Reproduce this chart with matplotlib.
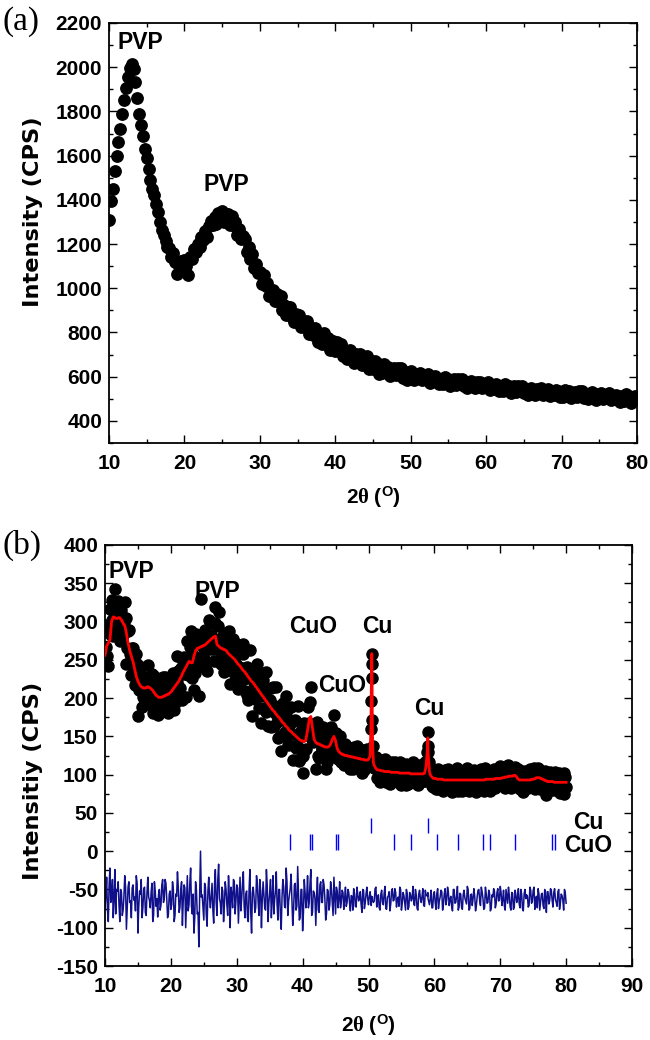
import numpy as np
import matplotlib
matplotlib.use("Agg")
import matplotlib.pyplot as plt
from matplotlib.ticker import MultipleLocator

plt.rcParams['font.family'] = ['Liberation Sans', 'DejaVu Sans']
plt.rcParams['font.weight'] = 'bold'
plt.rcParams['axes.unicode_minus'] = False
plt.rcParams['mathtext.fontset'] = 'custom'
plt.rcParams['mathtext.rm'] = 'Liberation Serif'
plt.rcParams['mathtext.bf'] = 'Liberation Sans:bold'
plt.rcParams['mathtext.it'] = 'Liberation Serif:italic'

# ---------------- (a) PVP film, step scan 10-80 deg, 0.25 deg step ----------------
tt_a = np.arange(10.0, 80.001, 0.25)
int_a = [
    1310, 1395, 1450, 1530, 1600, 1660, 1720, 1790,
    1850, 1905, 1955, 1995, 2015, 1990, 1935, 1860,
    1790, 1740, 1690, 1630, 1590, 1540, 1490, 1450,
    1420, 1380, 1345, 1300, 1265, 1240, 1215, 1185,
    1180, 1143, 1158, 1120, 1065, 1100, 1125, 1105,
    1128, 1100, 1062, 1142, 1133, 1178, 1164, 1201,
    1185, 1234, 1218, 1260, 1233, 1280, 1305, 1284,
    1322, 1292, 1341, 1310, 1350, 1302, 1335, 1338,
    1288, 1327, 1284, 1300, 1241, 1269, 1223, 1238,
    1225, 1164, 1186, 1134, 1156, 1091, 1109, 1069,
    1072, 1021, 1061, 1011, 1025, 963, 987, 993,
    942, 976, 937, 964, 903, 926, 879, 914,
    915, 870, 847, 885, 862, 880, 825, 832,
    824, 854, 793, 819, 790, 821, 807, 756,
    792, 749, 796, 755, 777, 721, 751, 762,
    717, 755, 720, 750, 693, 720, 678, 716,
    722, 681, 660, 702, 682, 704, 652, 664,
    659, 692, 633, 663, 637, 671, 660, 613,
    650, 618, 657, 627, 646, 604, 629, 641,
    607, 639, 613, 639, 595, 619, 587, 620,
    624, 596, 583, 613, 602, 618, 583, 591,
    590, 612, 573, 596, 579, 603, 596, 565,
    591, 567, 598, 575, 591, 559, 579, 588,
    563, 588, 569, 589, 557, 575, 551, 576,
    581, 558, 547, 574, 563, 578, 548, 556,
    554, 575, 541, 560, 545, 566, 560, 533,
    557, 534, 565, 542, 558, 527, 547, 556,
    531, 556, 537, 557, 525, 543, 519, 544,
    550, 527, 516, 543, 533, 548, 518, 526,
    525, 546, 512, 532, 517, 538, 533, 506,
    531, 508, 540, 517, 533, 503, 523, 532,
    508, 533, 514, 535, 503, 521, 498, 523,
    529, 506, 496, 523, 512, 528, 498, 506,
    505, 526, 493, 512, 497, 519, 513, 486,
    511, 488, 520, 497, 513, 483, 503, 512,
    498,
]

# ---------------- (b) Cu/CuO-PVP composite, Rietveld fit ----------------
# main scan points: 10.00, 10.25, ... 80.00
tt_b_grid = np.arange(10.0, 80.001, 0.25)
obs_b_grid = [
    244, 296, 242, 316, 302, 281, 343, 316,
    327, 275, 310, 283, 325, 245, 287, 257,
    230, 266, 240, 258, 177, 228, 240, 202,
    228, 192, 243, 212, 220, 180, 229, 194,
    178, 213, 193, 227, 203, 224, 180, 212,
    194, 233, 184, 223, 255, 205, 239, 197,
    254, 202, 274, 240, 287, 226, 210, 284,
    245, 203, 329, 273, 241, 285, 236, 302,
    264, 298, 248, 319, 248, 313, 261, 280,
    234, 285, 253, 288, 218, 259, 277, 230,
    265, 212, 270, 239, 271, 209, 241, 198,
    263, 177, 235, 199, 244, 206, 233, 167,
    224, 187, 234, 163, 198, 162, 214, 180,
    214, 148, 186, 131, 193, 156, 203, 139,
    163, 188, 119, 170, 135, 190, 118, 157,
    102, 168, 134, 188, 167, 214, 142, 154,
    107, 169, 122, 161, 133, 155, 108, 148,
    122, 162, 141, 178, 124, 144, 130, 116,
    138, 112, 140, 120, 132, 108, 126, 136,
    112, 137, 118, 130, 102, 131, 113, 134,
    112, 134, 258, 110, 123, 96, 111, 91,
    116, 97, 120, 90, 107, 88, 113, 100,
    116, 92, 105, 117, 87, 110, 96, 114,
    88, 110, 98, 117, 92, 106, 86, 112,
    96, 114, 92, 116, 156, 96, 109, 84,
    104, 81, 107, 91, 105, 79, 99, 85,
    108, 84, 96, 77, 105, 88, 109, 82,
    99, 79, 104, 90, 109, 78, 98, 84,
    106, 77, 96, 105, 84, 102, 79, 109,
    88, 105, 78, 99, 107, 83, 103, 92,
    111, 87, 107, 82, 100, 113, 87, 106,
    85, 110, 92, 107, 81, 99, 77, 105,
    98, 82, 108, 88, 105, 81, 99, 109,
    81, 101, 85, 105, 74, 100, 88, 102,
    80, 103, 85, 99, 76, 96, 88, 102,
    84,
]
calc_b_grid = [
    256, 268, 272, 276, 300, 306, 305, 304,
    305, 305, 302, 298, 295, 285, 272, 262,
    255, 248, 238, 228, 222, 218, 215, 214,
    213, 214, 215, 214, 212, 210, 207, 204,
    202, 201, 201, 202, 203, 204, 205, 206,
    208, 211, 214, 217, 220, 223, 227, 232,
    236, 240, 244, 248, 247, 246, 255, 262,
    265, 266, 267, 268, 269, 270, 272, 274,
    276, 278, 280, 281, 270, 268, 266, 265,
    264, 263, 261, 258, 256, 254, 252, 250,
    247, 244, 242, 239, 236, 234, 231, 228,
    225, 222, 220, 217, 214, 211, 208, 205,
    202, 199, 196, 193, 190, 187, 184, 182,
    179, 176, 174, 171, 168, 166, 163, 161,
    158, 156, 154, 152, 150, 148, 146, 145,
    144, 143, 146, 158, 172, 176, 160, 146,
    142, 141, 140, 139, 138, 137, 136, 136,
    137, 140, 146, 150, 144, 134, 130, 128,
    127, 126, 125, 125, 124, 124, 123, 123,
    122, 122, 121, 121, 120, 120, 119, 119,
    120, 125, 258, 115, 110, 107, 106, 106,
    105, 105, 104, 104, 104, 104, 103, 103,
    103, 103, 103, 102, 102, 102, 102, 102,
    102, 102, 101, 101, 101, 101, 101, 101,
    101, 101, 102, 112, 148, 104, 98, 96,
    95, 95, 94, 94, 94, 94, 93, 93,
    93, 93, 93, 93, 93, 93, 93, 93,
    93, 93, 93, 93, 93, 93, 93, 93,
    93, 93, 93, 93, 93, 93, 93, 94,
    94, 94, 94, 94, 94, 95, 95, 95,
    95, 96, 96, 97, 97, 98, 98, 98,
    99, 99, 97, 94, 93, 93, 93, 93,
    93, 93, 93, 94, 94, 95, 96, 96,
    96, 95, 94, 93, 92, 91, 91, 91,
    91, 90, 90, 90, 90, 90, 90, 90,
    90,
]
# interleaved scan points: 10.125, 10.375, ... 79.875
tt_b_mid = np.arange(10.125, 79.9, 0.25)
obs_b_mid = [
    267, 255, 292, 283, 328, 306, 284, 314,
    297, 315, 278, 299, 305, 266, 289, 255,
    265, 241, 217, 245, 210, 222, 189, 225,
    195, 222, 216, 201, 231, 186, 215, 203,
    206, 186, 219, 197, 228, 204, 185, 217,
    201, 224, 193, 221, 236, 213, 251, 231,
    252, 240, 230, 267, 236, 256, 233, 275,
    247, 274, 269, 256, 289, 249, 283, 275,
    282, 264, 298, 271, 294, 267, 245, 274,
    255, 274, 237, 260, 270, 241, 273, 245,
    259, 241, 224, 257, 225, 238, 204, 238,
    205, 229, 220, 203, 232, 187, 216, 203,
    205, 182, 212, 186, 213, 185, 163, 190,
    169, 187, 150, 172, 182, 152, 184, 156,
    171, 153, 137, 171, 139, 153, 120, 156,
    125, 152, 154, 153, 195, 146, 163, 144,
    146, 125, 157, 133, 162, 136, 116, 146,
    130, 155, 126, 150, 154, 120, 151, 124,
    134, 124, 115, 136, 118, 127, 108, 129,
    111, 126, 122, 113, 132, 106, 125, 119,
    125, 160, 137, 109, 123, 106, 94, 111,
    100, 111, 91, 106, 113, 96, 116, 101,
    111, 102, 92, 114, 96, 106, 87, 109,
    91, 106, 102, 94, 113, 88, 107, 101,
    104, 92, 117, 130, 117, 100, 85, 101,
    90, 101, 81, 96, 103, 86, 106, 91,
    101, 92, 83, 105, 87, 97, 78, 100,
    82, 98, 94, 86, 105, 80, 99, 93,
    96, 84, 104, 90, 108, 93, 81, 100,
    89, 101, 81, 96, 103, 88, 108, 93,
    103, 95, 86, 109, 91, 102, 83, 105,
    88, 103, 96, 86, 105, 80, 99, 93,
    96, 84, 104, 91, 109, 95, 84, 102,
    90, 101, 80, 94, 100, 84, 104, 89,
    98, 89, 80, 102, 84, 94, 75, 97,
]
calc_b_mid = [
    262, 270, 274, 288, 303, 306, 304, 304,
    305, 303, 300, 296, 290, 278, 267, 258,
    251, 243, 233, 225, 220, 216, 214, 213,
    213, 214, 214, 213, 211, 208, 205, 203,
    201, 201, 201, 202, 203, 204, 205, 207,
    209, 212, 215, 218, 221, 225, 229, 234,
    238, 242, 246, 247, 246, 250, 258, 263,
    265, 266, 267, 268, 269, 271, 273, 275,
    277, 279, 280, 276, 269, 267, 265, 264,
    263, 262, 259, 257, 255, 253, 251, 248,
    245, 243, 240, 237, 235, 232, 229, 226,
    223, 221, 218, 215, 212, 209, 206, 203,
    200, 197, 194, 191, 188, 185, 183, 180,
    177, 175, 172, 169, 167, 164, 162, 159,
    157, 155, 153, 151, 149, 147, 145, 144,
    143, 144, 152, 165, 175, 168, 153, 144,
    141, 140, 139, 138, 137, 136, 136, 136,
    138, 143, 148, 147, 139, 132, 129, 127,
    126, 125, 125, 124, 124, 123, 123, 122,
    122, 121, 121, 120, 120, 119, 119, 119,
    122, 165, 140, 112, 108, 106, 106, 105,
    105, 104, 104, 104, 104, 103, 103, 103,
    103, 103, 102, 102, 102, 102, 102, 102,
    102, 101, 101, 101, 101, 101, 101, 101,
    101, 101, 106, 125, 120, 100, 97, 95,
    95, 94, 94, 94, 94, 93, 93, 93,
    93, 93, 93, 93, 93, 93, 93, 93,
    93, 93, 93, 93, 93, 93, 93, 93,
    93, 93, 93, 93, 93, 93, 93, 94,
    94, 94, 94, 94, 94, 95, 95, 95,
    95, 96, 96, 97, 97, 98, 98, 98,
    99, 98, 95, 93, 93, 93, 93, 93,
    93, 93, 93, 94, 94, 95, 96, 96,
    95, 94, 93, 92, 91, 91, 91, 91,
    90, 90, 90, 90, 90, 90, 90, 90,
]
# finer sampling across the two sharp Cu reflections
tt_b_fine = [50.42, 50.46, 50.54, 50.58, 58.96, 59.04]
obs_b_fine = [196, 245, 226, 172, 138, 130]
calc_b_fine = [205, 242, 228, 170, 135, 130]

diff_offset = 62  # residual shifted below the pattern

# Bragg reflection positions
cu_peaks = [50.45, 59.0]
cuo_peaks = [38.1, 41.1, 41.4, 45.1, 45.4, 53.9, 56.4, 60.4, 63.6, 67.4, 68.4, 72.2, 77.8, 78.3]

# merge all scan points in angle order
tt_b = np.concatenate([tt_b_grid, tt_b_mid, tt_b_fine])
order = np.argsort(tt_b)
tt_b = tt_b[order]
obs_b = np.concatenate([obs_b_grid, obs_b_mid, obs_b_fine])[order]
calc_b = np.concatenate([calc_b_grid, calc_b_mid, calc_b_fine])[order]
diff_b = obs_b - calc_b - diff_offset

# ---------------- figure ----------------
fig = plt.figure(figsize=(6.5, 10.4), dpi=100)
ax_a = fig.add_axes([109/650, 1-443/1040, 528/650, 420/1040])
ax_b = fig.add_axes([105/650, 1-966/1040, 527/650, 421/1040])

TICK_FS = 15
ANN_FS = 16.5
xlab = r'$\mathbf{2}\mathrm{\theta}\ \mathbf{(}^{\mathbf{O}}\mathbf{)}$'
ylab_font = dict(family=['DejaVu Sans'], fontsize=16.2, fontweight='bold')


def style(ax):
    ax.tick_params(which='both', direction='in', top=True, right=True, width=1.0)
    ax.tick_params(which='major', length=6)
    ax.tick_params(which='minor', length=3)
    ax.tick_params(axis='x', which='major', pad=8)
    ax.tick_params(axis='y', which='major', pad=5)
    for s in ax.spines.values():
        s.set_linewidth(1.3)
    for lab in ax.get_xticklabels() + ax.get_yticklabels():
        lab.set_fontsize(TICK_FS)
        lab.set_fontweight('bold')


# panel (a)
ax_a.plot(tt_a, int_a, 'o', color='black', ms=8.2, mec='black')
ax_a.set_xlim(10, 80)
ax_a.set_ylim(300, 2200)
ax_a.xaxis.set_major_locator(MultipleLocator(10))
ax_a.xaxis.set_minor_locator(MultipleLocator(5))
ax_a.yaxis.set_minor_locator(MultipleLocator(100))
ax_a.set_yticks(np.arange(400, 2201, 200))
style(ax_a)
ax_a.set_ylabel('Intensity (CPS)', **ylab_font)
ax_a.yaxis.set_label_coords(-0.125, 0.55)
ax_a.set_xlabel(xlab, fontsize=15)
ax_a.xaxis.set_label_coords(0.5, -0.10)
ax_a.text(14.1, 2114, 'PVP', ha='center', va='center', fontsize=ANN_FS, fontweight='bold')
ax_a.text(25.6, 1469, 'PVP', ha='center', va='center', fontsize=ANN_FS, fontweight='bold')

# panel (b)
ax_b.plot(tt_b, obs_b, 'o', color='black', ms=8.0, mec='black', zorder=2)
ax_b.plot(tt_b, calc_b, '-', color='#ff0000', lw=2.0, zorder=3)
ax_b.plot(tt_b, diff_b, '-', color='#10108a', lw=1.1, zorder=2)
ax_b.vlines(cu_peaks, 24, 44, color='#0000ff', lw=1.0)
ax_b.vlines(cuo_peaks, 2, 22, color='#0000ff', lw=1.0)
ax_b.set_xlim(10, 90)
ax_b.set_ylim(-150, 400)
ax_b.xaxis.set_major_locator(MultipleLocator(10))
ax_b.xaxis.set_minor_locator(MultipleLocator(5))
ax_b.yaxis.set_major_locator(MultipleLocator(50))
ax_b.yaxis.set_minor_locator(MultipleLocator(25))
style(ax_b)
ax_b.set_ylabel('Intensitiy (CPS)', **ylab_font)
ax_b.yaxis.set_label_coords(-0.118, 0.44)
ax_b.set_xlabel(xlab, fontsize=15)
ax_b.xaxis.set_label_coords(0.5, -0.112)

ann_kw = dict(ha='center', va='center', fontsize=ANN_FS, fontweight='bold')
ax_b.text(10.5, 365, 'PVP', ha='left', va='center', fontsize=ANN_FS, fontweight='bold')
ax_b.text(27.1, 339, 'PVP', **ann_kw)
ax_b.text(41.6, 293, 'CuO', **ann_kw)
ax_b.text(51.3, 293, 'Cu', **ann_kw)
ax_b.text(46.0, 216, 'CuO', **ann_kw)
ax_b.text(59.2, 187, 'Cu', **ann_kw)
ax_b.text(83.3, 38, 'Cu', **ann_kw)
ax_b.text(83.3, 7, 'CuO', **ann_kw)

# panel letters
fig.text(2/650, 1-22/1040, '(a)', family='Liberation Serif', fontweight='normal',
         fontsize=24, ha='left', va='center')
fig.text(2/650, 1-545/1040, '(b)', family='Liberation Serif', fontweight='normal',
         fontsize=24, ha='left', va='center')

fig.savefig('out.png', dpi=100)
